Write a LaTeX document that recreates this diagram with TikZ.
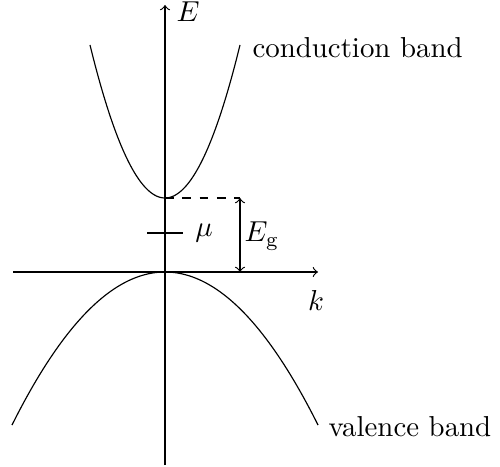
\documentclass[tikz,border=0pt]{standalone}
\begin{document}
\begin{tikzpicture}[x=0.3466pt,y=-0.3466pt,
  axis/.style={->,line width=0.4pt},
  band/.style={line width=0.4pt},
  lbl/.style={inner sep=0pt}]
\useasboundingbox (0,0) rectangle (500,466);
\coordinate (xs) at (13,272);
\coordinate (xe) at (318,272);
\coordinate (ys) at (165,465);
\coordinate (ye) at (165,5);
\draw[axis] (xs) -- (xe);
\draw[axis] (ys) -- (ye);
\node[lbl,anchor=west] (E) at (176,12) {$E$};
\node[lbl] (k) at (316,300) {$k$};
% conduction band
\draw[band] plot[domain=-75:75,samples=80] ({165+\x},{198-153*(\x/75)^2});
% valence band
\draw[band] plot[domain=-153:153,samples=100] ({165+\x},{272+153*(\x/153)^2});
\coordinate (cb) at (165,198);
\coordinate (gt) at (240,198);
\coordinate (gb) at (240,272);
\draw[dashed] (cb) -- (gt);
\draw[<->] (gt) -- (gb);
\node[lbl] (Eg) at (262,236) {$E_{\mathrm{g}}$};
\coordinate (m1) at (147,233);
\coordinate (m2) at (183,233);
\draw (m1) -- (m2);
\node[lbl] (mu) at (204,233) {$\mu$};
\node[lbl,anchor=base west] (cbl) at (252,58) {conduction band};
\node[lbl,anchor=base west] (vbl) at (328,436) {valence band};
\end{tikzpicture}
\end{document}
